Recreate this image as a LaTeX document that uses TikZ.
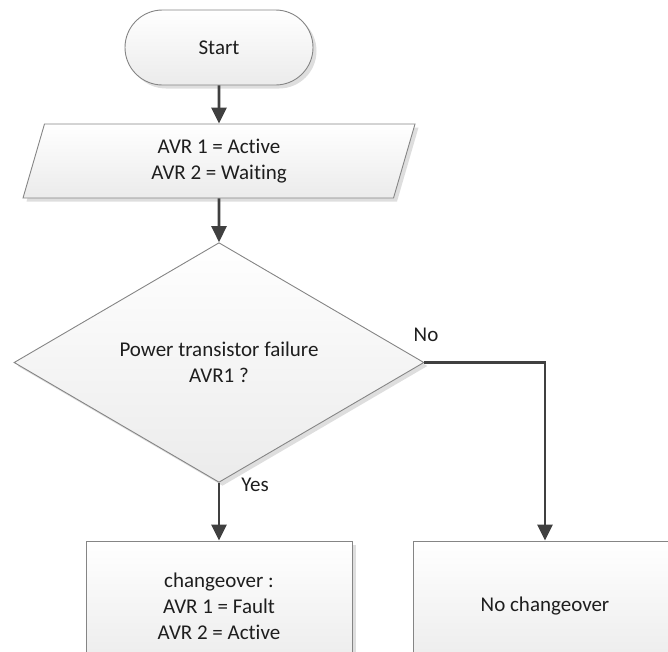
\documentclass[tikz,border=0pt]{standalone}
\usepackage{fontspec}
\setmainfont{Carlito}[Ligatures={NoCommon}]
\usetikzlibrary{shapes.geometric,arrows.meta,shadows}
\definecolor{edgegray}{HTML}{858585}
\definecolor{arrowgray}{HTML}{404040}
\definecolor{shadegray}{HTML}{EBEBEB}
\definecolor{txt}{HTML}{1E1E1E}
\begin{document}
\begin{tikzpicture}[x=1pt,y=-1pt,
  box/.style={draw=edgegray, line width=0.9pt, top color=white, bottom color=shadegray,
    drop shadow={shadow xshift=3.5pt, shadow yshift=-3.5pt, fill=black, opacity=0.13},
    align=center, text=txt, font=\fontsize{21}{26}\selectfont, inner sep=0pt},
  flow/.style={draw=arrowgray, line width=2.6pt, -{Triangle[width=15pt,length=16pt]}},
  lbl/.style={text=txt, font=\fontsize{21}{26}\selectfont, inner sep=0pt}]
\clip (0,0) rectangle (668,651);
\node[box, rounded corners=37.5pt, minimum width=188pt, minimum height=75pt] (start) at (219,47.5) {Start};
\node[box, trapezium, trapezium left angle=64, trapezium right angle=116,
  trapezium stretches body, minimum width=392pt, minimum height=74pt] (para) at (219,161)
  {AVR 1 = Active\\AVR 2 = Waiting};
\node[box, diamond, minimum width=410pt, minimum height=219pt] (dec) at (219,362.5)
  {Power transistor failure\\AVR1 ?};
\node[box, rectangle, minimum width=266pt, minimum height=130pt] (yesbox) at (219,606)
  {changeover :\\AVR 1 = Fault\\AVR 2 = Active};
\node[box, rectangle, minimum width=264pt, minimum height=130pt] (nobox) at (545,606)
  {No changeover};
\draw[flow] (start) -- (para);
\draw[flow] (para) -- (dec);
\draw[flow] (dec.south) -- (yesbox.north);
\draw[flow] (dec.east) -| (nobox.north);
\node[lbl] (yes) at (255,485) {Yes};
\node[lbl] (no) at (426,335) {No};
\end{tikzpicture}
\end{document}
